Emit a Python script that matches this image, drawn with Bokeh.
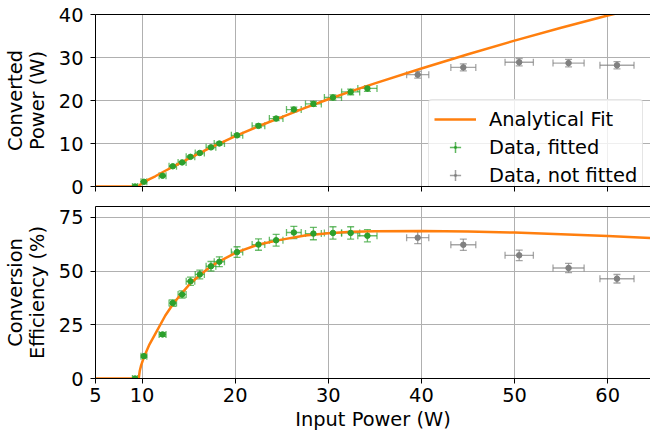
from bokeh.plotting import figure
from bokeh.models import (ColumnDataSource, Range1d, FixedTicker, LinearAxis,
                          Whisker, TeeHead, Legend, LegendItem)
from bokeh.layouts import column
from bokeh.embed import file_html
from bokeh.resources import INLINE

FONT = "DejaVu Sans"
FS = "19.4px"
ORANGE = "#ff7f0e"
GREEN = "#2ca02c"
GRAY = "#808080"

# ---- data: fitted measurements ----
fit_in = [9.25, 10.2, 12.2, 13.3, 14.3, 15.2, 16.2, 17.4, 18.3, 20.2, 22.5, 24.4, 26.3, 28.4, 30.5, 32.4, 34.2]
fit_out = [0.0, 1.1, 2.5, 4.7, 5.6, 6.9, 7.8, 9.1, 10.0, 11.9, 14.1, 15.8, 17.9, 19.2, 20.7, 22.0, 22.8]
fit_eff = [0.0, 10.4, 20.5, 35.1, 39.1, 45.2, 48.4, 52.2, 54.3, 58.8, 62.3, 64.3, 67.9, 67.4, 67.7, 67.7, 66.4]
fit_in_err = [0.28, 0.31, 0.37, 0.40, 0.43, 0.46, 0.49, 0.52, 0.55, 0.61, 0.68, 0.73, 0.79, 0.85, 0.92, 0.97, 1.03]
fit_out_err = [0.0, 0.03, 0.08, 0.14, 0.17, 0.21, 0.23, 0.27, 0.30, 0.36, 0.42, 0.47, 0.54, 0.58, 0.62, 0.66, 0.68]
fit_eff_err = [0.0, 0.44, 0.87, 1.49, 1.66, 1.92, 2.05, 2.21, 2.30, 2.49, 2.64, 2.73, 2.88, 2.86, 2.87, 2.87, 2.82]

# ---- data: not fitted measurements ----
nf_in = [39.6, 44.5, 50.5, 55.8, 61.0]
nf_out = [26.0, 27.7, 28.9, 28.7, 28.2]
nf_eff = [65.5, 62.2, 57.3, 51.4, 46.4]
nf_in_err = [1.19, 1.34, 1.52, 1.67, 1.83]
nf_out_err = [0.78, 0.83, 0.87, 0.86, 0.85]
nf_eff_err = [2.78, 2.64, 2.43, 2.18, 1.97]

# ---- analytical fit curve ----
curve_in = [5.0, 9.64, 9.75, 9.9, 10.24, 10.8, 11.42, 12.5, 13.4, 14.3, 15.2, 16.2, 17.4, 18.3,
            20.2, 22.5, 25.0, 27.5, 30.0, 32.5, 35.0, 40.0, 45.0, 50.0, 55.0, 60.0, 65.0]
curve_out = [0.0, 0.0, 0.34, 0.60, 1.06, 1.72, 2.38, 3.66, 4.70, 5.69, 6.73, 7.78, 9.08, 9.97,
             11.88, 14.02, 16.15, 18.29, 20.28, 22.17, 23.98, 27.44, 30.76, 33.93, 36.93, 39.75, 42.38]
curve_eff = [0.0, 0.0, 3.5, 6.1, 10.4, 15.9, 20.8, 29.3, 35.1, 39.8, 44.3, 48.0, 52.2, 54.5,
             58.8, 62.3, 64.6, 66.5, 67.6, 68.2, 68.5, 68.6, 68.35, 67.85, 67.15, 66.25, 65.2]

x_ticks = [5, 10, 20, 30, 40, 50, 60]
top_ticks = [0, 10, 20, 30, 40]
bot_ticks = [0, 25, 50, 75]

x_range = Range1d(5, 64.6)


def style_axis(ax):
    ax.axis_line_color = "black"
    ax.axis_line_width = 1
    ax.major_tick_line_color = "black"
    ax.major_tick_out = 5
    ax.major_tick_in = 0
    ax.minor_tick_out = 0
    ax.minor_tick_in = 0
    ax.major_label_text_font = FONT
    ax.major_label_text_font_size = FS
    ax.major_label_text_color = "black"
    ax.axis_label_text_font = FONT
    ax.axis_label_text_font_size = FS
    ax.axis_label_text_font_style = "normal"
    ax.axis_label_text_color = "black"
    ax.axis_label_text_line_height = 0.95


def make_fig(height, btop, bbottom, y_end, yticks, ylabel, show_x):
    p = figure(width=650, height=height, x_range=x_range, y_range=Range1d(0, y_end),
               output_backend="svg", toolbar_location=None,
               min_border_left=93, min_border_right=0,
               min_border_top=btop, min_border_bottom=bbottom)
    p.outline_line_color = None
    style_axis(p.xaxis[0])
    style_axis(p.yaxis[0])
    p.yaxis.ticker = FixedTicker(ticks=yticks)
    p.yaxis.axis_label = ylabel
    p.yaxis.major_label_standoff = 7
    p.yaxis.axis_label_standoff = 7
    if show_x:
        p.xaxis.ticker = FixedTicker(ticks=x_ticks)
        p.xaxis.axis_label = "Input Power (W)"
        p.xaxis.major_label_standoff = 4
        p.xaxis.axis_label_standoff = 3
    else:
        # tick marks only (no labels) on the shared x axis of the upper panel
        p.xaxis.ticker = FixedTicker(ticks=[], minor_ticks=x_ticks)
        p.xaxis.minor_tick_out = 5
        p.xaxis.minor_tick_line_color = "black"
        p.xaxis.major_label_standoff = 0
    top = LinearAxis(ticker=FixedTicker(ticks=[]),
                     major_tick_out=0, major_tick_in=0, minor_tick_out=0, minor_tick_in=0,
                     major_label_standoff=0, axis_line_color="black")
    p.add_layout(top, "above")
    p.xgrid.ticker = FixedTicker(ticks=x_ticks)
    p.ygrid.ticker = FixedTicker(ticks=yticks)
    for g in (p.xgrid[0], p.ygrid[0]):
        g.grid_line_color = "#b0b0b0"
        g.grid_line_width = 1
    return p


def add_errorbars(p, x, y, xerr, yerr, color):
    src = ColumnDataSource(dict(
        x=x, y=y,
        xl=[a - b for a, b in zip(x, xerr)], xu=[a + b for a, b in zip(x, xerr)],
        yl=[a - b for a, b in zip(y, yerr)], yu=[a + b for a, b in zip(y, yerr)]))
    for dim, base, lo, up in (("width", "y", "xl", "xu"), ("height", "x", "yl", "yu")):
        w = Whisker(source=src, base=base, lower=lo, upper=up, dimension=dim,
                    line_color=color, line_alpha=0.7, line_width=1.3,
                    upper_head=TeeHead(size=7, line_color=color, line_alpha=0.7, line_width=1.3),
                    lower_head=TeeHead(size=7, line_color=color, line_alpha=0.7, line_width=1.3))
        p.add_layout(w)
    return src


# ---- top panel ----
p1 = make_fig(206, 14, 20, 40, top_ticks, "Converted\nPower (W)", False)
add_errorbars(p1, fit_in, fit_out, fit_in_err, fit_out_err, GREEN)
add_errorbars(p1, nf_in, nf_out, nf_in_err, nf_out_err, GRAY)
line1 = p1.line(curve_in, curve_out, line_color=ORANGE, line_width=2.5)
p1.scatter(fit_in, fit_out, size=5.5, color=GREEN)
p1.scatter(nf_in, nf_out, size=5.5, color=GRAY)

# legend swatches (single point placed outside the visible range, used only by the legend)
sw_g = ColumnDataSource(dict(x=[-100], y=[-100]))
sw_k = ColumnDataSource(dict(x=[-100], y=[-100]))
cross_g = p1.scatter("x", "y", source=sw_g, marker="cross", size=10, line_color=GREEN,
                     line_alpha=0.75, line_width=1.5)
dot_g = p1.scatter("x", "y", source=sw_g, marker="dot", size=10, line_color=GREEN,
                   fill_color=GREEN, line_width=3)
cross_k = p1.scatter("x", "y", source=sw_k, marker="cross", size=10, line_color=GRAY,
                     line_alpha=0.75, line_width=1.5)
dot_k = p1.scatter("x", "y", source=sw_k, marker="dot", size=10, line_color=GRAY,
                   fill_color=GRAY, line_width=3)

legend = Legend(items=[
    LegendItem(label="Analytical Fit", renderers=[line1]),
    LegendItem(label="Data, fitted", renderers=[cross_g, dot_g]),
    LegendItem(label="Data, not fitted", renderers=[cross_k, dot_k]),
], location=(333, -9))
legend.label_text_font = FONT
legend.label_text_font_size = FS
legend.label_text_color = "black"
legend.glyph_width = 42
legend.glyph_height = 28
legend.label_height = 28
legend.label_standoff = 13
legend.spacing = 0
legend.padding = 5
legend.margin = 0
legend.border_line_color = "#cccccc"
legend.border_line_width = 1
legend.background_fill_color = "white"
legend.background_fill_alpha = 0.8
if "border_radius" in Legend.properties():
    legend.border_radius = 4
p1.add_layout(legend)

# ---- bottom panel ----
p2 = make_fig(230, 0, 58, 80, bot_ticks, "Conversion\nEfficiency (%)", True)
add_errorbars(p2, fit_in, fit_eff, fit_in_err, fit_eff_err, GREEN)
add_errorbars(p2, nf_in, nf_eff, nf_in_err, nf_eff_err, GRAY)
p2.line(curve_in, curve_eff, line_color=ORANGE, line_width=2.5)
p2.scatter(fit_in, fit_eff, size=5.5, color=GREEN)
p2.scatter(nf_in, nf_eff, size=5.5, color=GRAY)

layout = column(p1, p2, spacing=0)
open("out.html", "w").write(file_html(layout, INLINE))
